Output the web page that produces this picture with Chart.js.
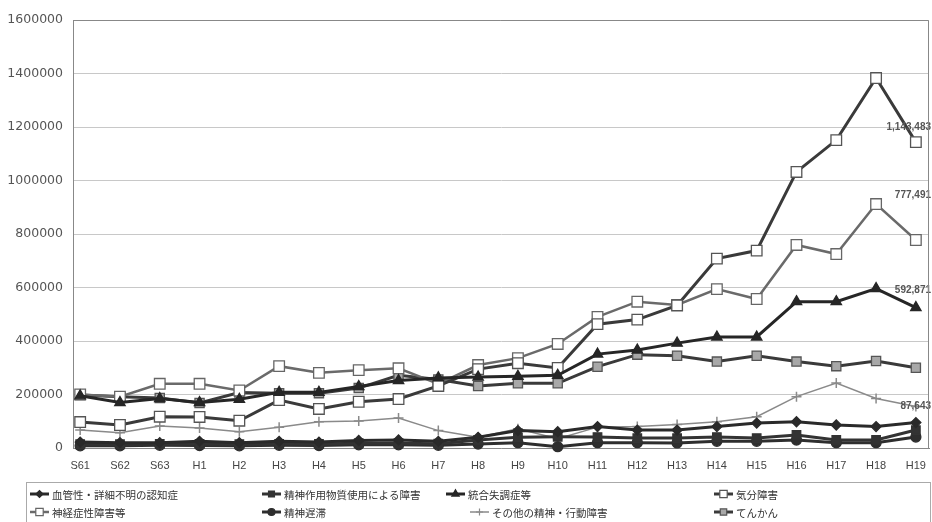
<!DOCTYPE html>
<html>
<head>
<meta charset="utf-8">
<script src="https://cdn.jsdelivr.net/npm/chart.js@4.4.0/dist/chart.umd.min.js"></script>
<style>
  body { margin: 0; background: #fff; }
  #wrap { width: 932px; height: 522px; position: relative; }
</style>
</head>
<body>
<div id="wrap"><canvas id="grafico"></canvas></div>
<script>
// 年度
const categories = ["S61", "S62", "S63", "H1", "H2", "H3", "H4", "H5", "H6", "H7", "H8",
  "H9", "H10", "H11", "H12", "H13", "H14", "H15", "H16", "H17", "H18", "H19"];

const yTicks = [0, 200000, 400000, 600000, 800000, 1000000, 1200000, 1400000, 1600000];

// 系列
const ninchi    = [22000, 20000, 20000, 25000, 20000, 25000, 22000, 28000, 30000, 25000, 40000,
  65000, 61000, 80000, 67000, 67000, 80000, 93000, 98000, 86000, 80000, 95000];
const busshitsu = [14000, 14000, 15000, 15000, 14000, 15000, 15000, 18000, 18000, 16000, 30000,
  40000, 42000, 41000, 37000, 37000, 41000, 37000, 49000, 30000, 30000, 67000];
const tougou    = [195000, 170000, 185000, 170000, 182000, 208000, 208000, 230000, 252000, 262000, 265000,
  268000, 272000, 351000, 366000, 392000, 415000, 415000, 547000, 547000, 596000, 525000];
const kibun     = [97000, 86000, 117000, 116000, 102000, 179000, 146000, 173000, 183000, 232000, 295000,
  317000, 299000, 463000, 480000, 533000, 708000, 738000, 1032000, 1151000, 1383000, 1143483];
const shinkei   = [200000, 192000, 240000, 240000, 215000, 306000, 281000, 291000, 298000, 240000, 310000,
  336000, 389000, 490000, 547000, 535000, 594000, 557000, 759000, 725000, 912000, 777491];
const chitai    = [8000, 8000, 10000, 9000, 8000, 10000, 9000, 12000, 12000, 10000, 15000,
  20000, 5000, 20000, 20000, 19000, 25000, 25000, 30000, 20000, 20000, 41000];
const sonota    = [67000, 57000, 82000, 75000, 61000, 78000, 98000, 101000, 112000, 65000, 40000,
  72000, 35000, 78000, 80000, 88000, 98000, 117000, 192000, 243000, 185000, 155000];
const tenkan    = [198000, 192000, 187000, 168000, 207000, 205000, 205000, 224000, 272000, 256000, 232000,
  242000, 242000, 304000, 349000, 345000, 323000, 345000, 323000, 306000, 325000, 300000];

// 右端の数値ラベル
const endLabels = [
  { serie: 3, text: "1,143,483", dy: -15 },
  { serie: 4, text: "777,491", dy: -45 },
  { serie: 2, text: "592,871", dy: -17 },
  { serie: 0, text: "87,643", dy: -16 },
];

const toXY = (arr) => arr.map((v, i) => ({ x: i, y: v }));

const series = [
  { label: "血管性・詳細不明の認知症", data: ninchi, line: "#2a2a2a", width: 3, style: "rectRot", r: 5, fill: "#2a2a2a", stroke: "#2a2a2a" },
  { label: "精神作用物質使用による障害", data: busshitsu, line: "#333", width: 3, style: "rect", r: 6, fill: "#333", stroke: "#333" },
  { label: "統合失調症等", data: tougou, line: "#262626", width: 3, style: "triangle", r: 6, fill: "#262626", stroke: "#262626" },
  { label: "気分障害", data: kibun, line: "#3a3a3a", width: 3, style: "rect", r: 7.5, fill: "#fff", stroke: "#555" },
  { label: "神経症性障害等", data: shinkei, line: "#6a6a6a", width: 2.5, style: "rect", r: 7.5, fill: "#fff", stroke: "#666" },
  { label: "精神遅滞", data: chitai, line: "#2e2e2e", width: 3, style: "circle", r: 5, fill: "#2e2e2e", stroke: "#2e2e2e" },
  { label: "その他の精神・行動障害", data: sonota, line: "#8a8a8a", width: 1.5, style: "cross", r: 5, fill: "#8a8a8a", stroke: "#8a8a8a" },
  { label: "てんかん", data: tenkan, line: "#3a3a3a", width: 3, style: "rect", r: 6.5, fill: "#a8a8a8", stroke: "#555" },
];

// 枠線
const marco = {
  id: "marco",
  afterDraw(chart) {
    const { ctx, chartArea: a } = chart;
    ctx.save();
    ctx.strokeStyle = "#888";
    ctx.lineWidth = 1;
    ctx.beginPath();
    ctx.moveTo(a.left, a.top + 0.5);
    ctx.lineTo(a.right - 0.5, a.top + 0.5);
    ctx.lineTo(a.right - 0.5, a.bottom);
    ctx.stroke();
    ctx.restore();
  },
};

// 数値ラベル
const etiquetas = {
  id: "etiquetas",
  afterDatasetsDraw(chart) {
    const { ctx, chartArea: a } = chart;
    ctx.save();
    ctx.font = "bold 10px 'Liberation Sans'";
    ctx.fillStyle = "#555";
    ctx.textAlign = "right";
    ctx.textBaseline = "middle";
    endLabels.forEach((l) => {
      const pt = chart.getDatasetMeta(l.serie).data[categories.length - 1];
      ctx.fillText(l.text, a.right + 2, pt.y + l.dy);
    });
    ctx.restore();
  },
};

// 凡例（下の枠）
const leyenda = {
  id: "leyenda",
  afterDraw(chart) {
    const { ctx } = chart;
    const filas = [494, 512];
    const cols = [[30, 262, 446, 714], [30, 262, 470, 714]];
    ctx.save();
    ctx.strokeStyle = "#aaa";
    ctx.lineWidth = 1;
    ctx.strokeRect(26.5, 482.5, 904, 42);
    ctx.font = "10.5px 'Noto Sans CJK JP'";
    ctx.textBaseline = "middle";
    series.forEach((s, i) => {
      const row = Math.floor(i / 4);
      const x = cols[row][i % 4];
      const y = filas[row];
      ctx.strokeStyle = s.line;
      ctx.lineWidth = s.width;
      ctx.beginPath();
      ctx.moveTo(x, y);
      ctx.lineTo(x + 19, y);
      ctx.stroke();
      ctx.fillStyle = s.fill;
      ctx.strokeStyle = s.stroke;
      ctx.lineWidth = 1.2;
      Chart.helpers.drawPoint(ctx, { pointStyle: s.style, radius: s.r * 0.7, rotation: 0, borderWidth: 1.2 }, x + 9.5, y);
      ctx.fillStyle = "#333";
      ctx.fillText(s.label, x + 22, y + 1);
    });
    ctx.restore();
  },
};

new Chart(document.getElementById("grafico"), {
  type: "line",
  data: {
    datasets: series.map((s) => ({
      label: s.label,
      data: toXY(s.data),
      borderColor: s.line,
      borderWidth: s.width,
      pointStyle: s.style,
      pointRadius: s.r,
      pointBackgroundColor: s.fill,
      pointBorderColor: s.stroke,
      pointBorderWidth: s.style === "cross" ? 1.5 : 1.3,
      tension: 0,
      clip: false,
    })),
  },
  options: {
    responsive: true,
    maintainAspectRatio: false,
    animation: false,
    layout: { autoPadding: false, padding: { left: 3, top: 20, right: 3, bottom: 48 } },
    plugins: { legend: { display: false }, tooltip: { enabled: false } },
    scales: {
      x: {
        type: "linear",
        min: -0.18,
        max: 21.33,
        afterBuildTicks: (s) => { s.ticks = categories.map((_, i) => ({ value: i })); },
        afterFit: (s) => { s.height = 26; },
        grid: { display: false },
        border: { color: "#888" },
        ticks: {
          autoSkip: false,
          maxRotation: 0,
          color: "#444",
          font: { family: "'Liberation Sans'", size: 11 },
          callback: (v) => categories[v] ?? "",
        },
      },
      y: {
        min: 0,
        max: 1600000,
        afterBuildTicks: (s) => { s.ticks = yTicks.map((v) => ({ value: v })); },
        afterFit: (s) => { s.width = 70; },
        grid: { color: "#c8c8c8", drawTicks: false },
        border: { color: "#888" },
        ticks: {
          color: "#555",
          padding: 10,
          font: { family: "'DejaVu Sans'", size: 12.5 },
          callback: (v) => String(v),
        },
      },
    },
  },
  plugins: [marco, etiquetas, leyenda],
});
</script>
</body>
</html>
